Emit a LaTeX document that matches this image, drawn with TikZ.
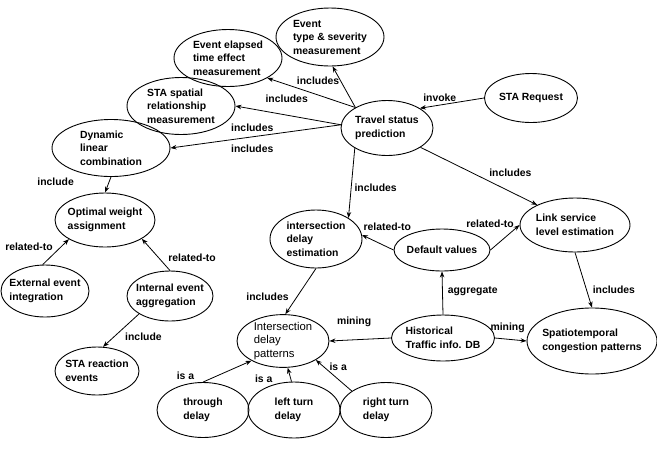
\documentclass[tikz,border=0pt]{standalone}
\usepackage{fontspec}
\setmainfont{Liberation Sans}
\usetikzlibrary{shapes.geometric,arrows.meta}
\tikzstyle{concept} = [ellipse, draw=black, line width=0.9pt, align=left, inner xsep=-10pt, inner ysep=0pt, font=\bfseries\fontsize{10.4}{13.5}\selectfont]
\tikzstyle{plain} = [concept, font=\fontsize{11.3}{13.4}\selectfont]
\tikzstyle{lbl} = [inner sep=1pt, font=\bfseries\fontsize{10.4}{12}\selectfont]
\tikzstyle{arrow} = [line width=0.8pt, -{Stealth[length=6pt,width=4.5pt]}]

\begin{document}
\begin{tikzpicture}[x=1pt, y=-1pt]
      \useasboundingbox (0,0) rectangle (657,451);
      \node (evtype)[concept, minimum width=108, minimum height=58] at (330,37) {Event\\type \& severity\\measurement};
      \node (elapsed)[concept, minimum width=108, minimum height=57] at (228,58) {Event elapsed\\time effect\\measurement};
      \node (spatial)[concept, minimum width=108, minimum height=57] at (181,106) {STA spatial\\relationship\\measurement};
      \node (dynamic)[concept, minimum width=118, minimum height=57] at (111,148) {Dynamic\\linear\\combination};
      \node (optimal)[concept, minimum width=100, minimum height=54] at (105,220) {Optimal weight\\assignment};
      \node (external)[concept, minimum width=88, minimum height=52] at (45,291) {External event\\integration};
      \node (internal)[concept, minimum width=86, minimum height=50] at (170,296) {Internal event\\aggregation};
      \node (reaction)[concept, minimum width=84, minimum height=48] at (97,371) {STA reaction\\events};
      \node (tsp)[concept, minimum width=92, minimum height=55] at (387,128) {Travel status\\prediction};
      \node (request)[concept, minimum width=93, minimum height=49] at (531,98) {STA Request};
      \node (link)[concept, minimum width=110, minimum height=54] at (575,225) {Link service\\level estimation};
      \node (ide)[concept, minimum width=92, minimum height=58] at (316,239) {intersection\\ delay\\estimation};
      \node (default)[concept, minimum width=96, minimum height=42] at (442,250) {Default values};
      \node (hist)[concept, minimum width=103, minimum height=46] at (443,338) {Historical\\Traffic info. DB};
      \node (spatio)[concept, minimum width=130, minimum height=66] at (592,341) {Spatiotemporal\\congestion patterns};
      \node (idp)[plain, minimum width=92, minimum height=52] at (283,341) {Intersection\\delay\\patterns};
      \node (through)[concept, minimum width=92, minimum height=55] at (203,410) {through\\delay};
      \node (left)[concept, minimum width=92, minimum height=56] at (294,410) {left turn\\delay};
      \node (right)[concept, minimum width=92, minimum height=55] at (386,410) {right turn\\delay};
      % travel status prediction
      \draw[arrow] (tsp.147)--(evtype.275) node[lbl, pos=.65, left]{includes};
      \draw[arrow] (tsp.147)--(elapsed.-27) node[lbl, pos=.78, below=9pt]{includes};
      \draw[arrow] (tsp.176)--(spatial.east) node[lbl, pos=.84, below=14pt]{includes};
      \draw[arrow] (tsp.176)--(dynamic.east) node[lbl, pos=.52, below=7pt]{includes};
      \draw[arrow] (request.west)--(tsp.31) node[lbl, pos=.69, above=2pt]{invoke};
      \draw[arrow] (tsp.-30)--(link.152) node[lbl, pos=.77, above=14pt]{includes};
      \draw[arrow] (tsp.212)--(ide.33) node[lbl, pos=.57, right=2pt]{includes};
      % weights
      \draw[arrow] (dynamic.south)--(optimal.north) node[lbl, pos=.3, left=34pt]{include};
      \draw[arrow] (external.95)--(optimal.208) node[lbl, pos=.7, left=7pt]{related-to};
      \draw[arrow] (internal.north)--(optimal.-27) node[lbl, pos=.39, right=8pt]{related-to};
      \draw[arrow] (internal.210)--(reaction.76) node[lbl, pos=.7, right=10pt]{include};
      % historical data
      \draw[arrow] (default.west)--(ide.5) node[lbl, pos=.2, above=15pt]{related-to};
      \draw[arrow] (default.east)--(link.west) node[lbl, pos=.85, above left]{related-to};
      \draw[arrow] (hist.north)--(default.south) node[lbl, pos=.55, right=4pt]{aggregate};
      \draw[arrow] (hist.west)--(idp.east) node[lbl, pos=.6, above=12pt]{mining};
      \draw[arrow] (hist.east)--(spatio.west) node[lbl, pos=.4, above=5pt]{mining};
      \draw[arrow] (link.south)--(spatio.north) node[lbl, pos=.67, right=5pt]{includes};
      % delay patterns
      \draw[arrow] (ide.south)--(idp.85) node[lbl, pos=.62, left=7pt]{includes};
      \draw[arrow] (through.north)--(idp.212) node[lbl, pos=.3, left=22pt]{is a};
      \draw[arrow] (left.95)--(idp.280) node[lbl, pos=.2, left=17pt]{is a};
      \draw[arrow] (right.151)--(idp.-30) node[lbl, pos=.77, right=4pt]{is a};
\end{tikzpicture}
\end{document}
